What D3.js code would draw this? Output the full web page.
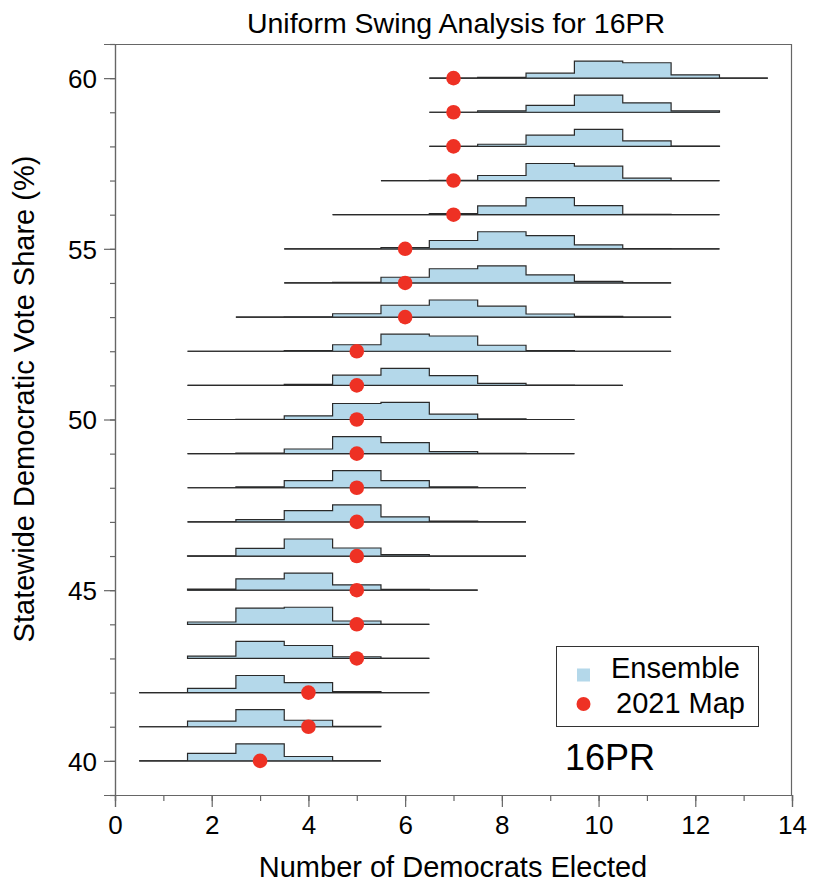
<!DOCTYPE html>
<html>
<head>
<meta charset="utf-8">
<script src="https://cdn.jsdelivr.net/npm/d3@7"></script>
<style>
  body { margin: 0; background: #fff; }
  text { font-family: "Liberation Sans", Arial, Helvetica, sans-serif; fill: #000; }
</style>
</head>
<body>
<script>
// vote share of each row, and the first seat count of each row's histogram
var voteShares = [40, 41, 42, 43, 44, 45, 46, 47, 48, 49, 50, 51, 52, 53, 54, 55, 56, 57, 58, 59, 60];
var binStart = [1, 1, 1, 2, 2, 2, 2, 2, 2, 2, 2, 2, 2, 3, 4, 4, 5, 6, 7, 7, 7];
// ensemble share of plans for each seat count, from binStart upwards
var ensemble = [
  [0, .26, .59, .15, 0],
  [0, .19, .58, .22, .01],
  [0, .13, .53, .31, .03, 0],
  [.07, .50, .38, .05, 0],
  [.06, .42, .44, .085, 0],
  [.03, .32, .48, .15, .02, 0],
  [.003, .225, .50, .235, .04, 0, 0],
  [0, .063, .31, .47, .14, .02, 0],
  [0, .03, .215, .51, .215, .03, 0],
  [0, .014, .13, .48, .31, .056, .008, 0],
  [0, .002, .087, .375, .40, .124, .016, 0],
  [0, 0, .025, .25, .42, .24, .05, .008, 0],
  [0, 0, .015, .14, .37, .33, .13, .015, 0, 0],
  [0, .006, .07, .25, .36, .23, .065, .015, 0],
  [0, .015, .12, .30, .36, .17, .035, 0],
  [0, 0, .03, .19, .39, .30, .09, .007, 0],
  [0, 0, .03, .24, .47, .25, .01, 0],
  [0, .005, .13, .44, .37, .06, 0],
  [0, .06, .31, .47, .15, .01],
  [0, .04, .19, .47, .26, .04],
  [0, .02, .12, .41, .37, .08, 0]
];
// seats won by the 2021 map at each vote share
var mapSeats = [3, 4, 4, 5, 5, 5, 5, 5, 5, 5, 5, 5, 5, 6, 6, 6, 7, 7, 7, 7, 7];

var xMajor = [0, 2, 4, 6, 8, 10, 12, 14];
var yMajor = [40, 45, 50, 55, 60];

var width = 830, height = 895;
var fillColor = "#b4d8ea", dotColor = "#ee3124", lineColor = "#2a2a2a", axisColor = "#666";

var svg = d3.select("body").append("svg")
    .attr("width", width)
    .attr("height", height);

var x = d3.scaleLinear().domain([0, 14]).range([115, 792]);
var y = d3.scaleLinear().domain([39, 61]).range([795, 44]);

// frame (top and right)
svg.append("path")
    .attr("d", "M106,44.5H791.5V795")
    .attr("fill", "none")
    .attr("stroke", axisColor)
    .attr("stroke-width", 1.2);

// axes: minor ticks then major ticks with labels
var yMinor = d3.axisLeft(y).tickValues(d3.range(39, 62)).tickSize(5).tickFormat("");
var yAxis = d3.axisLeft(y).tickValues(yMajor).tickSize(11).tickPadding(7);
var xMinor = d3.axisBottom(x).tickValues(d3.range(0, 15)).tickSize(6).tickFormat("");
var xAxis = d3.axisBottom(x).tickValues(xMajor).tickSize(12).tickPadding(9);

function styleAxis(g) {
  g.select(".domain").attr("stroke", axisColor).attr("stroke-width", 1.2);
  g.selectAll(".tick line").attr("stroke", axisColor).attr("stroke-width", 1.2);
  g.selectAll(".tick text").style("font-size", "26px").attr("fill", "#000");
}

svg.append("g").attr("transform", "translate(" + x(0) + ",0)").call(yMinor).call(styleAxis);
svg.append("g").attr("transform", "translate(" + x(0) + ",0)").call(yAxis).call(styleAxis)
    .selectAll(".tick text").attr("dy", "0.36em");
svg.append("g").attr("transform", "translate(0," + y(39) + ")").call(xMinor).call(styleAxis);
svg.append("g").attr("transform", "translate(0," + y(39) + ")").call(xAxis).call(styleAxis)
    .selectAll(".tick text").attr("dy", "0.71em");

// histograms, each one scaled so its tallest bin reaches half a row
var rows = svg.append("g").attr("class", "rows");
var line = d3.line()
    .x(function(p) { return x(p[0]); })
    .y(function(p) { return y(p[1]); });

voteShares.forEach(function(share, i) {
  var vals = ensemble[i];
  var lo = binStart[i];
  var top = d3.max(vals);
  var pts = [[lo - 0.5, share]];
  vals.forEach(function(v, k) {
    var h = share + v / top * 0.5;
    pts.push([lo + k - 0.5, h]);
    pts.push([lo + k + 0.5, h]);
  });
  pts.push([lo + vals.length - 0.5, share]);

  rows.append("line")
      .attr("x1", x(lo - 0.5)).attr("x2", x(lo + vals.length - 0.5))
      .attr("y1", y(share)).attr("y2", y(share))
      .attr("stroke", lineColor)
      .attr("stroke-width", 1.2);

  rows.append("path")
      .attr("d", line(pts) + "Z")
      .attr("fill", fillColor)
      .attr("stroke", lineColor)
      .attr("stroke-width", 1.2)
      .attr("stroke-linejoin", "miter");
});

svg.append("g").selectAll("circle")
    .data(mapSeats)
    .enter().append("circle")
      .attr("cx", function(d) { return x(d); })
      .attr("cy", function(d, i) { return y(voteShares[i]); })
      .attr("r", 7.3)
      .attr("fill", dotColor);

// legend
var legend = svg.append("g");
legend.append("rect")
    .attr("x", 556.5).attr("y", 646.5)
    .attr("width", 202).attr("height", 80)
    .attr("fill", "#fff")
    .attr("stroke", "#333")
    .attr("stroke-width", 1);
legend.append("rect")
    .attr("x", 577).attr("y", 668.5)
    .attr("width", 13).attr("height", 13)
    .attr("fill", fillColor);
legend.append("circle")
    .attr("cx", 583.5).attr("cy", 704)
    .attr("r", 7)
    .attr("fill", dotColor);
legend.append("text")
    .attr("x", 611).attr("y", 678)
    .style("font-size", "29px")
    .text("Ensemble");
legend.append("text")
    .attr("x", 616).attr("y", 713)
    .style("font-size", "29px")
    .text("2021 Map");

svg.append("text")
    .attr("x", 565).attr("y", 770)
    .style("font-size", "36px")
    .text("16PR");

// titles
svg.append("text")
    .attr("x", 456).attr("y", 33)
    .attr("text-anchor", "middle")
    .style("font-size", "28.5px")
    .text("Uniform Swing Analysis for 16PR");

svg.append("text")
    .attr("x", 453).attr("y", 877)
    .attr("text-anchor", "middle")
    .style("font-size", "29px")
    .text("Number of Democrats Elected");

svg.append("text")
    .attr("transform", "translate(34,399) rotate(-90)")
    .attr("text-anchor", "middle")
    .style("font-size", "29px")
    .text("Statewide Democratic Vote Share (%)");
</script>
</body>
</html>
